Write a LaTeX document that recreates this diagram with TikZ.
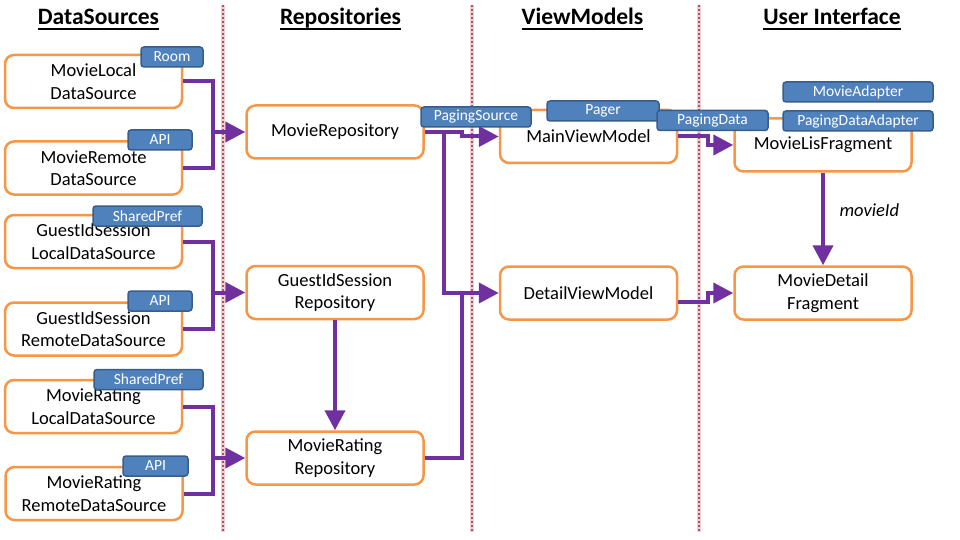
\documentclass[tikz,border=0pt]{standalone}
\usepackage{fontspec}
\setmainfont{Carlito}
\usetikzlibrary{arrows.meta}
\definecolor{boxorange}{RGB}{247,150,70}
\definecolor{tagblue}{RGB}{79,129,189}
\definecolor{tagedge}{RGB}{56,93,138}
\definecolor{flowpurple}{RGB}{112,48,160}
\definecolor{divred}{RGB}{170,85,100}
\definecolor{divpink}{RGB}{240,205,210}
\newcommand\ulhead[1]{\setbox0\hbox{#1}\rlap{\vrule height -3pt depth 5pt width \wd0}\box0}
\begin{document}
\begin{tikzpicture}[x=1pt,y=-1pt,
  compbox/.style={draw=boxorange,line width=2.5pt,fill=white,rounded corners=9pt,
    minimum width=177pt,minimum height=53pt,inner sep=0pt,align=center,
    font=\fontsize{18.5}{22.5}\selectfont},
  tagbox/.style={draw=tagedge,line width=1.5pt,fill=tagblue,rounded corners=3pt,
    text=white,minimum height=20pt,inner sep=0pt,font=\fontsize{15.5}{16}\selectfont},
  flowline/.style={draw=flowpurple,line width=4pt},
  flowarrow/.style={flowline,-{Triangle[length=20pt,width=20pt]}},
  divline/.style={draw=divred,line width=2.5pt,dash pattern=on 2pt off 2pt},
  heading/.style={font=\fontsize{23.5}{26}\selectfont\bfseries,anchor=base}]
  \useasboundingbox (0,0) rectangle (960,540);
  % layer separators
  \foreach \dx in {223,472,699}{
    \draw[divpink,line width=3.5pt] (\dx,5) -- (\dx,532);
    \draw[divline] (\dx,5) -- (\dx,532);
  }
  % column headings
  \node[heading] (hSrc) at (98.5,25) {\ulhead{DataSources}};
  \node[heading] (hRepo) at (340.5,25) {\ulhead{Repositories}};
  \node[heading] (hVM) at (582.5,25) {\ulhead{ViewModels}};
  \node[heading] (hUI) at (832,25) {\ulhead{User Interface}};
  % data sources
  \node[compbox] (mvLocal) at (93.5,81.5) {MovieLocal\\DataSource};
  \node[compbox] (mvRemote) at (93.5,168) {MovieRemote\\DataSource};
  \node[compbox] (gsLocal) at (93.5,241.5) {GuestIdSession\\LocalDataSource};
  \node[compbox] (gsRemote) at (93.5,329) {GuestIdSession\\RemoteDataSource};
  \node[compbox] (mrLocal) at (93.5,406.5) {MovieRating\\LocalDataSource};
  \node[compbox] (mrRemote) at (94,493.5) {MovieRating\\RemoteDataSource};
  % repositories
  \node[compbox] (mvRepo) at (335,132) {MovieRepository};
  \node[compbox] (gsRepo) at (335,292.5) {GuestIdSession\\Repository};
  \node[compbox] (mrRepo) at (335,458) {MovieRating\\Repository};
  % view models and ui
  \node[compbox] (mainVM) at (588.5,136.5) {MainViewModel};
  \node[compbox] (detailVM) at (588.5,293) {DetailViewModel};
  \node[compbox] (listFrag) at (823,145) {MovieLisFragment};
  \node[compbox] (detailFrag) at (823,293) {MovieDetail\\Fragment};
  \node[font=\fontsize{18.5}{20}\selectfont\itshape,anchor=west] (idLabel) at (836,210) {movieId};
  % sources -> repositories
  \coordinate (jMv) at (213,132);
  \draw[flowarrow] (mvLocal.east) -| (jMv) -- (mvRepo.west);
  \draw[flowline] (mvRemote.east) -| (jMv);
  \coordinate (jGs) at (213,292.5);
  \draw[flowarrow] (gsLocal.east) -| (jGs) -- (gsRepo.west);
  \draw[flowline] (gsRemote.east) -| (jGs);
  \coordinate (jMr) at (213,458);
  \draw[flowarrow] (mrLocal.east) -| (jMr) -- (mrRepo.west);
  \draw[flowline] (mrRemote.east) -| (jMr);
  \draw[flowarrow] (gsRepo.south) -- (mrRepo.north);
  % repositories -> view models
  \coordinate (jRepo) at (444,132);
  \coordinate (jDetail) at (462,293);
  \draw[flowarrow] (mvRepo.east) -- ++(37,0) |- (mainVM.west);
  \draw[flowarrow] (jRepo) |- (detailVM.west);
  \draw[flowline] (mrRepo.east) -| (jDetail);
  % view models -> ui
  \draw[flowarrow] (mainVM.east) -- ++(30,0) |- (listFrag.west);
  \draw[flowarrow] ([yshift=-9pt]detailVM.east) -- ++(30,0) |- (detailFrag.west);
  \draw[flowarrow] (listFrag.south) -- (detailFrag.north);
  % library tags
  \node[tagbox,minimum width=62pt] (tRoom) at (172,57) {Room};
  \node[tagbox,minimum width=64pt] (tApiMv) at (160,140) {API};
  \node[tagbox,minimum width=109pt] (tPrefGs) at (147.5,216) {SharedPref};
  \node[tagbox,minimum width=64pt] (tApiGs) at (160,301) {API};
  \node[tagbox,minimum width=109pt] (tPrefMr) at (148.5,379.5) {SharedPref};
  \node[tagbox,minimum width=65pt] (tApiMr) at (155.5,466) {API};
  \node[tagbox,minimum width=110pt] (tPagingSrc) at (476,117) {PagingSource};
  \node[tagbox,minimum width=112pt] (tPager) at (603,111) {Pager};
  \node[tagbox,minimum width=111pt] (tPagingData) at (712.5,120.5) {PagingData};
  \node[tagbox,minimum width=150pt] (tMovieAdapter) at (858,92) {MovieAdapter};
  \node[tagbox,minimum width=150pt] (tPagingAdapter) at (858,121) {PagingDataAdapter};
\end{tikzpicture}
\end{document}
